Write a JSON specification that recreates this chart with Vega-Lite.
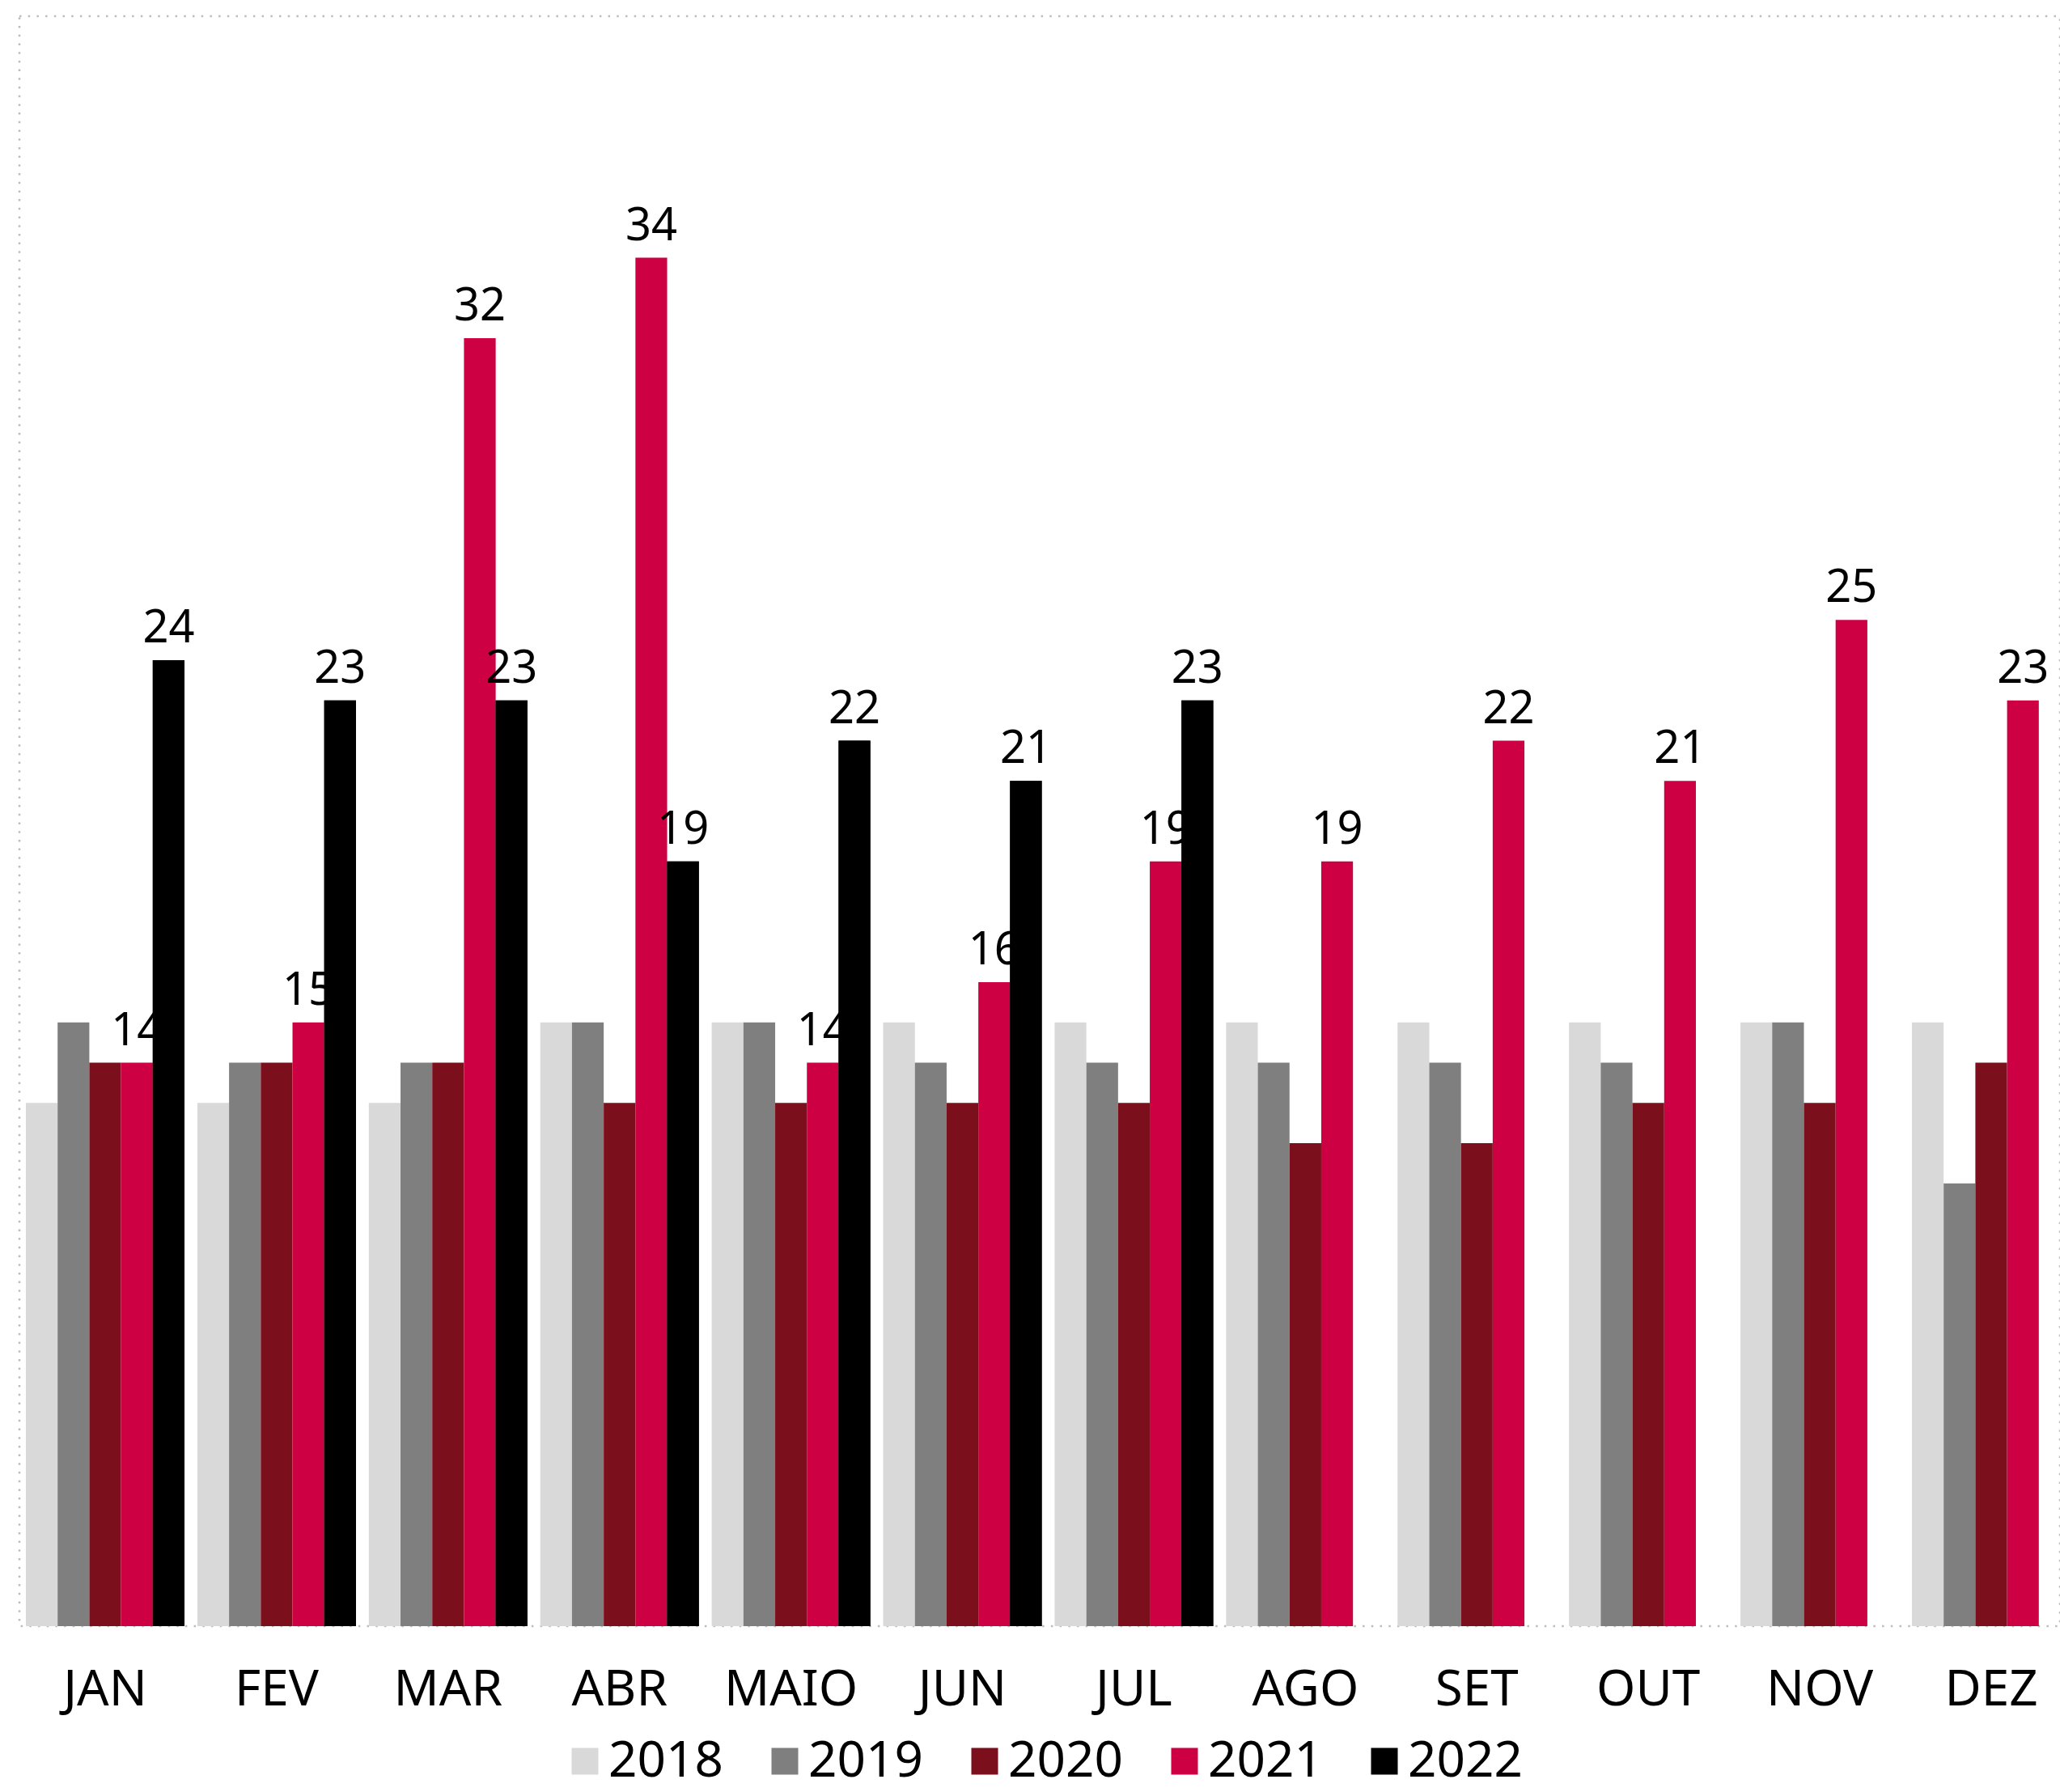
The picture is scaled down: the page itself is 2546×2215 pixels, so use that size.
{
  "$schema": "https://vega.github.io/schema/vega-lite/v6.json",
  "width": 2522,
  "height": 1990,
  "autosize": {"type": "none"},
  "padding": {"left": 24, "top": 20, "right": 0, "bottom": 205},
  "background": "white",
  "config": {
    "view": {"stroke": "#bdbdbd", "strokeWidth": 2.5, "strokeDash": [2.5, 8.2]},
    "font": "Noto Sans",
    "text": {"font": "Noto Sans"}
  },
  "data": {
    "values": [
      {"mes": "JAN", "ano": "2018", "valor": 13}, {"mes": "JAN", "ano": "2019", "valor": 15}, {"mes": "JAN", "ano": "2020", "valor": 14}, {"mes": "JAN", "ano": "2021", "valor": 14}, {"mes": "JAN", "ano": "2022", "valor": 24},
      {"mes": "FEV", "ano": "2018", "valor": 13}, {"mes": "FEV", "ano": "2019", "valor": 14}, {"mes": "FEV", "ano": "2020", "valor": 14}, {"mes": "FEV", "ano": "2021", "valor": 15}, {"mes": "FEV", "ano": "2022", "valor": 23},
      {"mes": "MAR", "ano": "2018", "valor": 13}, {"mes": "MAR", "ano": "2019", "valor": 14}, {"mes": "MAR", "ano": "2020", "valor": 14}, {"mes": "MAR", "ano": "2021", "valor": 32}, {"mes": "MAR", "ano": "2022", "valor": 23},
      {"mes": "ABR", "ano": "2018", "valor": 15}, {"mes": "ABR", "ano": "2019", "valor": 15}, {"mes": "ABR", "ano": "2020", "valor": 13}, {"mes": "ABR", "ano": "2021", "valor": 34}, {"mes": "ABR", "ano": "2022", "valor": 19},
      {"mes": "MAIO", "ano": "2018", "valor": 15}, {"mes": "MAIO", "ano": "2019", "valor": 15}, {"mes": "MAIO", "ano": "2020", "valor": 13}, {"mes": "MAIO", "ano": "2021", "valor": 14}, {"mes": "MAIO", "ano": "2022", "valor": 22},
      {"mes": "JUN", "ano": "2018", "valor": 15}, {"mes": "JUN", "ano": "2019", "valor": 14}, {"mes": "JUN", "ano": "2020", "valor": 13}, {"mes": "JUN", "ano": "2021", "valor": 16}, {"mes": "JUN", "ano": "2022", "valor": 21},
      {"mes": "JUL", "ano": "2018", "valor": 15}, {"mes": "JUL", "ano": "2019", "valor": 14}, {"mes": "JUL", "ano": "2020", "valor": 13}, {"mes": "JUL", "ano": "2021", "valor": 19}, {"mes": "JUL", "ano": "2022", "valor": 23},
      {"mes": "AGO", "ano": "2018", "valor": 15}, {"mes": "AGO", "ano": "2019", "valor": 14}, {"mes": "AGO", "ano": "2020", "valor": 12}, {"mes": "AGO", "ano": "2021", "valor": 19},
      {"mes": "SET", "ano": "2018", "valor": 15}, {"mes": "SET", "ano": "2019", "valor": 14}, {"mes": "SET", "ano": "2020", "valor": 12}, {"mes": "SET", "ano": "2021", "valor": 22},
      {"mes": "OUT", "ano": "2018", "valor": 15}, {"mes": "OUT", "ano": "2019", "valor": 14}, {"mes": "OUT", "ano": "2020", "valor": 13}, {"mes": "OUT", "ano": "2021", "valor": 21},
      {"mes": "NOV", "ano": "2018", "valor": 15}, {"mes": "NOV", "ano": "2019", "valor": 15}, {"mes": "NOV", "ano": "2020", "valor": 13}, {"mes": "NOV", "ano": "2021", "valor": 25},
      {"mes": "DEZ", "ano": "2018", "valor": 15}, {"mes": "DEZ", "ano": "2019", "valor": 11}, {"mes": "DEZ", "ano": "2020", "valor": 14}, {"mes": "DEZ", "ano": "2021", "valor": 23}
    ]
  },
  "encoding": {
    "x": {
      "field": "mes", "type": "nominal",
      "sort": ["JAN", "FEV", "MAR", "ABR", "MAIO", "JUN", "JUL", "AGO", "SET", "OUT", "NOV", "DEZ"],
      "scale": {"range": [8, 2535], "paddingInner": 0.075, "paddingOuter": 0},
      "axis": {"title": null, "domain": false, "ticks": false, "grid": false, "labelAngle": 0, "labelFontSize": 62, "labelColor": "#000000", "labelPadding": 48, "labelFont": "Noto Sans"}
    },
    "xOffset": {
      "field": "ano", "type": "nominal",
      "scale": {"domain": ["2018", "2019", "2020", "2021", "2022"], "paddingInner": 0, "paddingOuter": 0}
    },
    "y": {
      "field": "valor", "type": "quantitative",
      "scale": {"domain": [0, 40], "nice": false, "zero": true},
      "axis": null
    }
  },
  "layer": [
    {
      "mark": {"type": "bar"},
      "encoding": {
        "color": {
          "field": "ano", "type": "nominal",
          "scale": {"domain": ["2018", "2019", "2020", "2021", "2022"], "range": ["#d9d9d9", "#7f7f7f", "#7c0f1c", "#cc0042", "#000000"]},
          "legend": {"title": null, "orient": "none", "legendX": 668, "legendY": 2126, "direction": "horizontal", "symbolType": "square", "symbolSize": 1089, "symbolStrokeWidth": 0, "labelFontSize": 62, "labelFont": "Noto Sans", "labelColor": "#000000", "labelOffset": -2, "columnPadding": 45}
        }
      }
    },
    {
      "transform": [{"filter": "datum.ano == '2021'"}],
      "mark": {"type": "text", "fontSize": 56, "baseline": "alphabetic", "dy": -22, "color": "#000000"},
      "encoding": {"text": {"field": "valor", "type": "quantitative"}}
    },
    {
      "transform": [{"filter": "datum.ano == '2022'"}],
      "mark": {"type": "bar"},
      "encoding": {"color": {"field": "ano", "type": "nominal"}}
    },
    {
      "transform": [{"filter": "datum.ano == '2022'"}],
      "mark": {"type": "text", "fontSize": 56, "baseline": "alphabetic", "dy": -22, "color": "#000000"},
      "encoding": {"text": {"field": "valor", "type": "quantitative"}}
    }
  ]
}
